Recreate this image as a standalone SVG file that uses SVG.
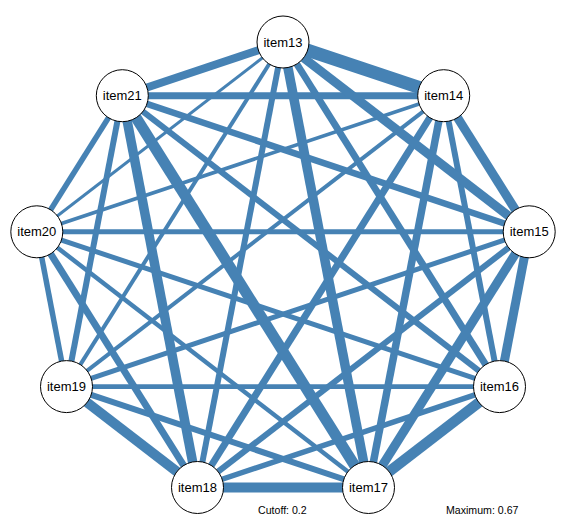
<svg xmlns="http://www.w3.org/2000/svg" width="578" height="529" viewBox="0 0 578 529">
<style>
.e{stroke:#4682b4;fill:none;stroke-linecap:butt}
.n circle{fill:#fff;stroke:#000;stroke-width:1}
.n text{font-family:"Liberation Sans",Arial,sans-serif;font-size:13px;fill:#000;text-anchor:middle}
.f{font-family:"Liberation Sans",Arial,sans-serif;font-size:10.6px;fill:#000}
</style>
<rect width="578" height="529" fill="#fff"/>
<g id="edges">
<line class="e" x1="283" y1="42" x2="36.8" y2="231.8" stroke-width="3"/>
<line class="e" x1="443.7" y1="95.7" x2="36.8" y2="231.8" stroke-width="3.7"/>
<line class="e" x1="283" y1="42" x2="66.5" y2="386.6" stroke-width="4"/>
<line class="e" x1="443.7" y1="95.7" x2="66.5" y2="386.6" stroke-width="4"/>
<line class="e" x1="368.5" y1="487.5" x2="36.8" y2="231.8" stroke-width="4.5"/>
<line class="e" x1="499.5" y1="386.6" x2="66.5" y2="386.6" stroke-width="4.7"/>
<line class="e" x1="529.2" y1="231.8" x2="66.5" y2="386.6" stroke-width="5"/>
<line class="e" x1="529.2" y1="231.8" x2="36.8" y2="231.8" stroke-width="5"/>
<line class="e" x1="499.5" y1="386.6" x2="36.8" y2="231.8" stroke-width="5"/>
<line class="e" x1="499.5" y1="386.6" x2="197.5" y2="487.5" stroke-width="5.5"/>
<line class="e" x1="66.5" y1="386.6" x2="36.8" y2="231.8" stroke-width="5.5"/>
<line class="e" x1="36.8" y1="231.8" x2="122.3" y2="95.7" stroke-width="5.5"/>
<line class="e" x1="283" y1="42" x2="197.5" y2="487.5" stroke-width="6"/>
<line class="e" x1="443.7" y1="95.7" x2="499.5" y2="386.6" stroke-width="6"/>
<line class="e" x1="529.2" y1="231.8" x2="197.5" y2="487.5" stroke-width="6"/>
<line class="e" x1="499.5" y1="386.6" x2="122.3" y2="95.7" stroke-width="6"/>
<line class="e" x1="368.5" y1="487.5" x2="66.5" y2="386.6" stroke-width="6"/>
<line class="e" x1="66.5" y1="386.6" x2="122.3" y2="95.7" stroke-width="6"/>
<line class="e" x1="529.2" y1="231.8" x2="122.3" y2="95.7" stroke-width="6.5"/>
<line class="e" x1="283" y1="42" x2="499.5" y2="386.6" stroke-width="7"/>
<line class="e" x1="443.7" y1="95.7" x2="197.5" y2="487.5" stroke-width="7"/>
<line class="e" x1="443.7" y1="95.7" x2="122.3" y2="95.7" stroke-width="7"/>
<line class="e" x1="197.5" y1="487.5" x2="36.8" y2="231.8" stroke-width="7"/>
<line class="e" x1="443.7" y1="95.7" x2="368.5" y2="487.5" stroke-width="7.5"/>
<line class="e" x1="283" y1="42" x2="122.3" y2="95.7" stroke-width="8"/>
<line class="e" x1="283" y1="42" x2="529.2" y2="231.8" stroke-width="9"/>
<line class="e" x1="443.7" y1="95.7" x2="529.2" y2="231.8" stroke-width="9"/>
<line class="e" x1="529.2" y1="231.8" x2="499.5" y2="386.6" stroke-width="9"/>
<line class="e" x1="529.2" y1="231.8" x2="368.5" y2="487.5" stroke-width="9"/>
<line class="e" x1="283" y1="42" x2="368.5" y2="487.5" stroke-width="9.5"/>
<line class="e" x1="197.5" y1="487.5" x2="122.3" y2="95.7" stroke-width="9.5"/>
<line class="e" x1="368.5" y1="487.5" x2="197.5" y2="487.5" stroke-width="10"/>
<line class="e" x1="197.5" y1="487.5" x2="66.5" y2="386.6" stroke-width="10"/>
<line class="e" x1="499.5" y1="386.6" x2="368.5" y2="487.5" stroke-width="10.5"/>
<line class="e" x1="368.5" y1="487.5" x2="122.3" y2="95.7" stroke-width="11"/>
<line class="e" x1="283" y1="42" x2="443.7" y2="95.7" stroke-width="13"/>
</g>
<g id="item13" class="n"><circle cx="283" cy="42" r="26"/><text x="283" y="46.5">item13</text></g>
<g id="item14" class="n"><circle cx="443.7" cy="95.7" r="26"/><text x="443.7" y="100.2">item14</text></g>
<g id="item15" class="n"><circle cx="529.2" cy="231.8" r="26"/><text x="529.2" y="236.3">item15</text></g>
<g id="item16" class="n"><circle cx="499.5" cy="386.6" r="26"/><text x="499.5" y="391.1">item16</text></g>
<g id="item17" class="n"><circle cx="368.5" cy="487.5" r="26"/><text x="368.5" y="492">item17</text></g>
<g id="item18" class="n"><circle cx="197.5" cy="487.5" r="26"/><text x="197.5" y="492">item18</text></g>
<g id="item19" class="n"><circle cx="66.5" cy="386.6" r="26"/><text x="66.5" y="391.1">item19</text></g>
<g id="item20" class="n"><circle cx="36.8" cy="231.8" r="26"/><text x="36.8" y="236.3">item20</text></g>
<g id="item21" class="n"><circle cx="122.3" cy="95.7" r="26"/><text x="122.3" y="100.2">item21</text></g>
<text class="f" x="258" y="514">Cutoff: 0.2</text>
<text class="f" x="446" y="514">Maximum: 0.67</text>
</svg>
